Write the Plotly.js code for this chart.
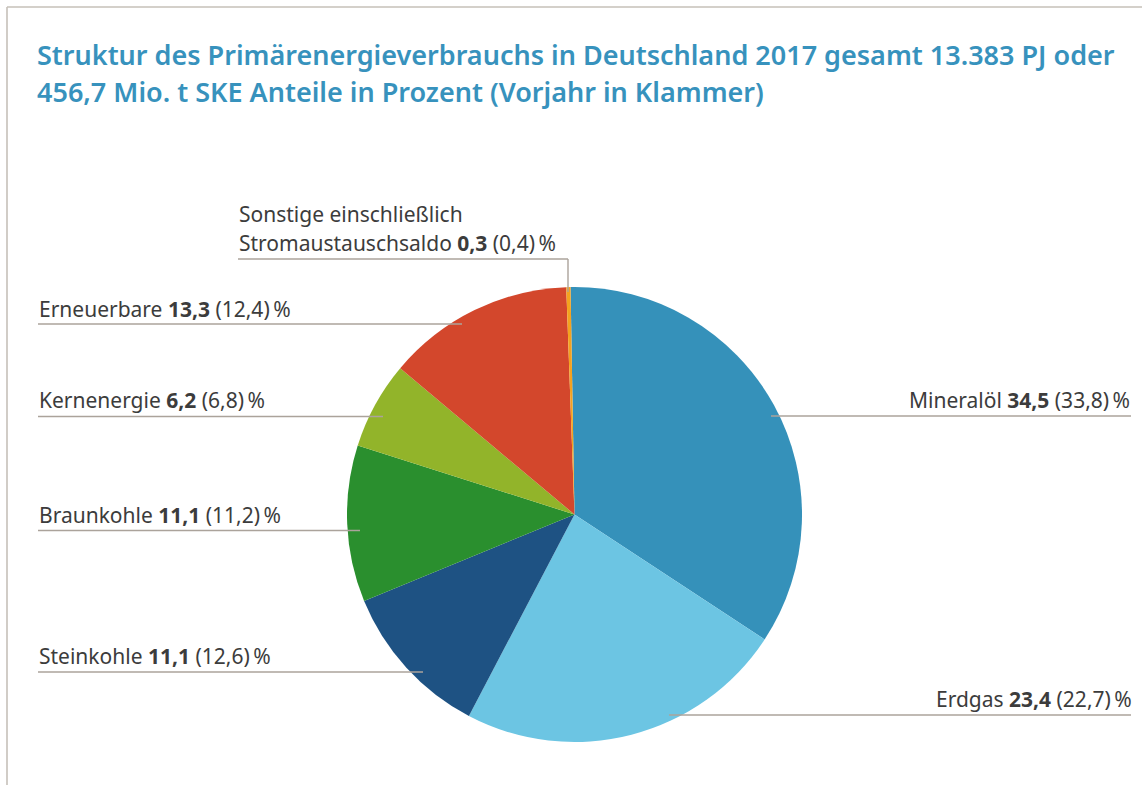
<!DOCTYPE html>
<html>
<head>
<meta charset="utf-8">
<script src="https://cdn.plot.ly/plotly-3.0.1.min.js"></script>
<style>
  html, body { margin: 0; padding: 0; background: #ffffff; }
  #chart { width: 1142px; height: 785px; }
</style>
</head>
<body>
<div id="chart"></div>
<script>
// ---- Data ----
const categories = ['Mineralöl', 'Erdgas', 'Steinkohle', 'Braunkohle', 'Kernenergie', 'Erneuerbare', 'Sonstige einschließlich Stromaustauschsaldo'];
const shares2017 = [34.5, 23.4, 11.1, 11.1, 6.2, 13.3, 0.3];
const shares2016 = [33.8, 22.7, 12.6, 11.2, 6.8, 12.4, 0.4];
const sliceColors = ['#3591ba', '#6cc5e3', '#1e5283', '#2a8f2e', '#92b42a', '#d3472c', '#f4a21f'];
const labelNames = ['Mineralöl', 'Erdgas', 'Steinkohle', 'Braunkohle', 'Kernenergie', 'Erneuerbare', 'Stromaustauschsaldo'];
const titleLines = ['Struktur des Primärenergieverbrauchs in Deutschland 2017 gesamt 13.383 PJ oder', '456,7 Mio. t SKE Anteile in Prozent (Vorjahr in Klammer)'];

const W = 1142, H = 785;
const px = x => x / W;
const py = y => 1 - y / H;
const fmt = v => v.toFixed(1).replace('.', ',');
const labelText = i => labelNames[i] + ' <b>' + fmt(shares2017[i]) + '</b> (' + fmt(shares2016[i]) + ')\u2009%';

const FS = 21;
const textColor = '#3c3c3c';
const lineColor = '#aba39b';

// label layout: [index, x, baseline, anchor]
const labelPos = [
  [0, 1132, 408, 'right'],
  [1, 1134, 706.7, 'right'],
  [2, 37, 664, 'left'],
  [3, 37, 522.7, 'left'],
  [4, 37, 408, 'left'],
  [5, 37, 316.7, 'left'],
  [6, 237, 251, 'left']
];
// leader lines
const leaders = [
  [771, 416, 1131, 416],
  [669, 715, 1131, 715],
  [38, 672, 423, 672],
  [38, 530.5, 360, 530.5],
  [38, 416.5, 383, 416.5],
  [38, 324, 462, 324],
  [238, 259, 568, 259],
  [568, 259, 568, 292]
];

const annotations = labelPos.map(([i, x, base, anchor]) => ({
  xref: 'paper', yref: 'paper',
  x: px(x), y: py(base - 0.39 * FS),
  xanchor: anchor, yanchor: 'middle',
  text: labelText(i), showarrow: false,
  font: {family: 'Noto Sans, sans-serif', size: FS, color: textColor}
}));
annotations.push({
  xref: 'paper', yref: 'paper',
  x: px(237), y: py(222 - 0.39 * FS),
  xanchor: 'left', yanchor: 'middle',
  text: 'Sonstige einschließlich', showarrow: false,
  font: {family: 'Noto Sans, sans-serif', size: FS, color: textColor}
});
// title lines
const TFS = 27;
const titleBase = [65, 102];
titleLines.forEach((t, k) => {
  annotations.push({
    xref: 'paper', yref: 'paper',
    x: px(35), y: py(titleBase[k] - 0.39 * TFS),
    xanchor: 'left', yanchor: 'middle',
    text: t, showarrow: false,
    font: {family: 'Noto Sans, sans-serif', size: TFS, color: '#3792bd', weight: 600}
  });
});

const shapes = leaders.map(([x0, y0, x1, y1]) => ({
  type: 'line', xref: 'paper', yref: 'paper',
  x0: px(x0), y0: py(y0), x1: px(x1), y1: py(y1),
  line: {color: lineColor, width: 1.4}
}));
// frame
shapes.push({type: 'line', xref: 'paper', yref: 'paper', x0: px(7), y0: py(7), x1: px(7), y1: 0, line: {color: '#c6c0b9', width: 1.6}});
shapes.push({type: 'line', xref: 'paper', yref: 'paper', x0: px(7), y0: py(7), x1: 1, y1: py(7), line: {color: '#c6c0b9', width: 1.6}});

const trace = {
  type: 'pie',
  labels: categories,
  values: shares2017,
  sort: false,
  direction: 'clockwise',
  rotation: -1,
  textinfo: 'none',
  hoverinfo: 'label+value',
  marker: {colors: sliceColors, line: {width: 0}},
  domain: {x: [px(347), px(802)], y: [py(742), py(287)]},
  showlegend: false
};

const layout = {
  width: W, height: H,
  margin: {l: 0, r: 0, t: 0, b: 0},
  paper_bgcolor: '#ffffff',
  plot_bgcolor: '#ffffff',
  showlegend: false,
  annotations: annotations,
  shapes: shapes
};

Plotly.newPlot('chart', [trace], layout, {displayModeBar: false, staticPlot: true});
</script>
</body>
</html>
